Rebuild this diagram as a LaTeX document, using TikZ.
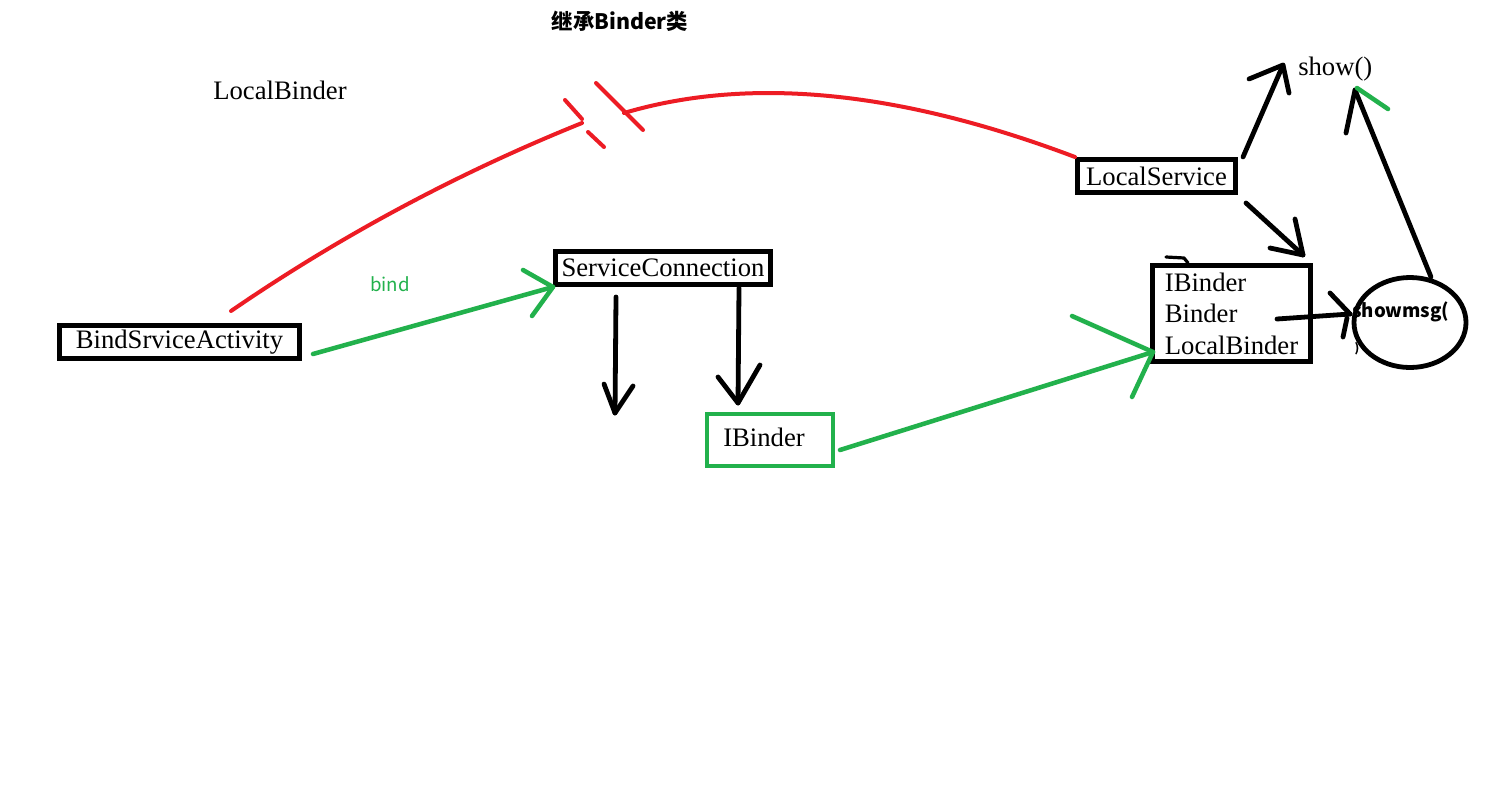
\documentclass[tikz,border=0pt]{standalone}
\usepackage{fontspec}
\setmainfont{Liberation Serif}
\newfontfamily\cjk{Noto Sans CJK SC}
\usetikzlibrary{shapes.geometric}
\definecolor{pred}{RGB}{237,28,36}
\definecolor{pgreen}{RGB}{34,177,76}
\begin{document}
\begin{tikzpicture}[x=0.75pt,y=-0.75pt,line cap=round,line join=round,
  serif/.style={font=\fontsize{20}{23.6}\selectfont, inner sep=0pt},
  blackbox/.style={serif, draw=black, line width=3.75pt, line cap=butt, line join=miter},
  greenbox/.style={serif, draw=pgreen, line width=3.2pt, line cap=butt, line join=miter},
  kpen/.style={draw=black, line width=3.6pt},
  gpen/.style={draw=pgreen, line width=3.4pt},
  rpen/.style={draw=pred, line width=3pt}]
\useasboundingbox (0,0) rectangle (1502,785);
\fill[white] (0,0) rectangle (1502,785);

% boxes
\node[blackbox, minimum width={240*0.75pt}, minimum height={33*0.75pt}] (bsa) at (179.5,342) {BindSrviceActivity};
\node[blackbox, minimum width={215*0.75pt}, minimum height={33*0.75pt}] (sc) at (663,268) {ServiceConnection};
\node[blackbox, minimum width={158*0.75pt}, minimum height={33*0.75pt}] (ls) at (1156.5,176) {LocalService};
\node[greenbox, minimum width={126*0.75pt}, minimum height={52*0.75pt}] (ib) at (770,440) {};
\node[serif] (ibt) at (764,437) {IBinder};
\node[blackbox, minimum width={158*0.75pt}, minimum height={96*0.75pt}, align=left] (lb) at (1231.5,313.5) {IBinder\\Binder\\LocalBinder};
\node[ellipse, draw=black, line width=3.6pt, minimum width={112*0.75pt}, minimum height={90*0.75pt}] (sm) at (1410,322.5) {};

% texts
\node[font=\cjk\bfseries\fontsize{16}{18}\selectfont, inner sep=0pt] (title) at (620,21) {继承Binder类};
\node[serif] (lbl) at (280,90) {LocalBinder};
\node[serif, anchor=west] (show) at (1298,69) {show()};
\node[font=\cjk\fontsize{14}{16}\selectfont, text=pgreen, inner sep=0pt] (bind) at (390,284) {bind};
\node[font=\cjk\bfseries\fontsize{14}{16}\selectfont, inner sep=0pt, anchor=west] (smt) at (1352,312) {showmsg(};
\node[font=\cjk\bfseries\fontsize{9}{10}\selectfont, inner sep=0pt] (smp) at (1357,349) {)};

% free ends
\coordinate (g1s) at (313,354);
\coordinate (g1h1) at (523,270);
\coordinate (g1h2) at (532,316);
\coordinate (a1s) at (616,297);
\coordinate (a1t) at (615,413);
\coordinate (a1h1) at (604,384);
\coordinate (a1h2) at (633,386);
\coordinate (a2s) at (739,288);
\coordinate (a2t) at (738,403);
\coordinate (a2h1) at (718,377);
\coordinate (a2h2) at (760,365);
\coordinate (g2s) at (840,450);
\coordinate (g2t) at (1153,352);
\coordinate (g2h1) at (1072,316);
\coordinate (g2h2) at (1132,397);
\coordinate (s1s) at (1243,157);
\coordinate (s1t) at (1283,65);
\coordinate (s1h1) at (1249,79);
\coordinate (s1h2) at (1289,93);
\coordinate (s2s) at (1246,203);
\coordinate (s2t) at (1303,255);
\coordinate (s2h1) at (1270,248);
\coordinate (s2h2) at (1295,219);
\coordinate (s3s) at (1277,319);
\coordinate (s3t) at (1350,314);
\coordinate (s3h1) at (1330,293);
\coordinate (s3h2) at (1343,337);
\coordinate (s3t2) at (1347,318);
\coordinate (s4s) at (1431,277);
\coordinate (s4t) at (1355,90);
\coordinate (s4h1) at (1346,133);
\coordinate (s4g1) at (1357,88);
\coordinate (s4g2) at (1388,109);
\coordinate (r1s) at (231,311);
\coordinate (r1e) at (582,123);
\coordinate (r2e) at (624,113);

% green bind arrow
\draw[gpen] (g1s) -- (sc.south west);
\draw[gpen] (g1h1) -- (sc.south west) -- (g1h2);
% black arrows from ServiceConnection
\draw[kpen] (a1s) -- (a1t);
\draw[kpen] (a1h1) -- (a1t) -- (a1h2);
\draw[kpen] (a2s) -- (a2t);
\draw[kpen] (a2h1) -- (a2t) -- (a2h2);
% green IBinder -> LocalBinder box
\draw[gpen] (g2s) -- (g2t);
\draw[gpen] (g2h1) -- (g2t) -- (g2h2);
% LocalService -> show()
\draw[kpen] (s1s) -- (s1t);
\draw[kpen] (s1h1) -- (s1t) -- (s1h2);
% LocalService -> LocalBinder box
\draw[kpen] (s2s) -- (s2t);
\draw[kpen] (s2h1) -- (s2t) -- (s2h2);
% Binder -> showmsg
\draw[kpen] (s3s) -- (s3t);
\draw[kpen] (s3h1) -- (s3t);
\draw[kpen] (s3h2) -- (s3t2);
% showmsg -> show()
\draw[kpen] (s4s) -- (s4t);
\draw[kpen] (s4h1) -- (s4t);
\draw[gpen] (s4g1) -- (s4g2);
% small mark on top of LocalBinder box
\draw[draw=black, line width=2.4pt] (1166,257) -- (1184,258) -- (1188,263);

% red broken curve
\draw[rpen] (r1s) .. controls (339.3,236.7) and (456.3,173.7) .. (r1e);
\draw[rpen] (565,100) -- (582,119);
\draw[rpen] (588,132) -- (604,147);
\draw[rpen] (ls.north west) .. controls (898.7,90.3) and (749,76) .. (r2e);
\draw[rpen] (596,83) -- (643,130);
\end{tikzpicture}
\end{document}
